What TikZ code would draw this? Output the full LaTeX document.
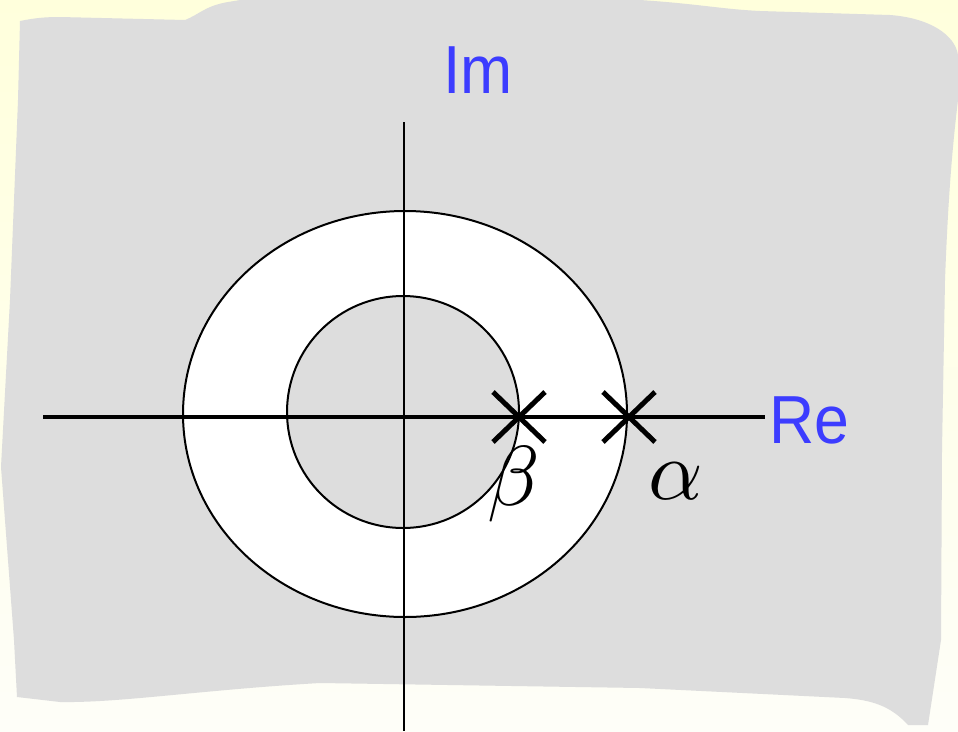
\documentclass[tikz,border=0pt]{standalone}
\usepackage{fontspec}
\setmainfont{Liberation Sans}
\usetikzlibrary{calc}
\definecolor{bgtop}{RGB}{255,255,220}
\definecolor{bgbot}{RGB}{254,254,248}
\definecolor{panel}{RGB}{221,221,221}
\definecolor{lblue}{RGB}{60,60,255}
\tikzset{
  axislabel/.style={text=lblue, inner sep=0pt, scale=6.8, xscale=0.92},
  greek/.style={inner sep=0pt, scale=8.5},
  cross/.style={line width=5pt},
}
\begin{document}
\begin{tikzpicture}[x=1pt,y=-1pt]
\useasboundingbox (0,0) rectangle (958,731);
\shade[top color=bgtop, bottom color=bgbot] (0,0) rectangle (958,731);
% grey panel
\fill[panel] (20,21) .. controls (35,18) and (45,17) .. (60,17)
  -- (185,20) .. controls (200,14) and (205,6) .. (228,2)
  -- (240,0) -- (640,0) .. controls (700,4) and (720,9) .. (760,11)
  -- (890,15) .. controls (930,18) and (955,35) .. (958,55)
  -- (958,100) .. controls (952,150) and (948,200) .. (945,280)
  -- (942,450) -- (941,640) -- (928,725) -- (908,725)
  .. controls (890,705) and (870,700) .. (845,698)
  -- (640,688) -- (320,683)
  .. controls (200,690) and (120,703) .. (60,702)
  -- (17,697) -- (14,640) -- (1,467) -- (10,300) -- (18,100) -- cycle;
% annulus
\coordinate (O) at (405,414);
\filldraw[fill=white, draw=black, line width=2pt] (O) ellipse [x radius=222, y radius=203];
\filldraw[fill=panel, draw=black, line width=2pt] (403,412) circle [radius=116];
% axes
\coordinate (xl) at (43,417);
\coordinate (xr) at (765,417);
\coordinate (yt) at (404,122);
\coordinate (yb) at (404,731);
\draw[line width=2pt] (yt) -- (yb);
\draw[line width=4pt] (xl) -- (xr);
\node[axislabel] (im) at (478,70) {Im};
\node[axislabel] (re) at (809,420) {Re};
% crosses
\coordinate (b) at (519,417);
\coordinate (a) at (629,417);
\draw[cross] ($(b)+(-26,-25)$) -- ($(b)+(26,25)$) ($(b)+(-26,25)$) -- ($(b)+(26,-25)$);
\draw[cross] ($(a)+(-26,-25)$) -- ($(a)+(26,25)$) ($(a)+(-26,25)$) -- ($(a)+(26,-25)$);
\node[greek] (beta) at (514,484) {$\beta$};
\node[greek] (alpha) at (676,481) {$\alpha$};
\end{tikzpicture}
\end{document}
